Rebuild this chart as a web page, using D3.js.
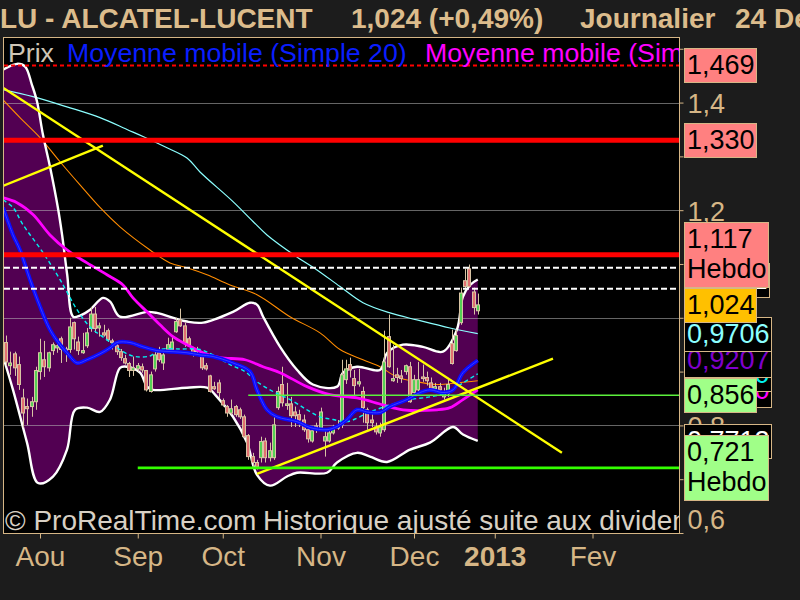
<!DOCTYPE html>
<html>
<head>
<meta charset="utf-8">
<script src="https://cdn.jsdelivr.net/npm/d3@7"></script>
<style>
  html, body { margin: 0; padding: 0; background: #1c1c1c; }
  svg { display: block; }
</style>
</head>
<body>
<svg id="chart" width="800" height="600"></svg>
<script>
// ALU daily candles, index 0 = 20 Jul 2012 ... index 111 = 24 Dec 2012
const candleOpen = [
  0.954,0.911,0.933,0.913,0.851,0.835,0.835,0.844,0.900,0.922,
  0.907,0.939,0.944,0.961,0.942,0.941,0.991,0.955,0.935,0.948,
  0.980,1.007,0.981,0.972,0.976,0.957,0.948,0.937,0.924,0.915,
  0.902,0.905,0.909,0.902,0.863,0.905,0.935,0.916,0.941,0.941,
  0.974,0.996,0.985,0.961,0.941,0.941,0.928,0.911,0.892,0.872,
  0.879,0.846,0.835,0.823,0.835,0.829,0.816,0.781,0.742,0.731,
  0.740,0.771,0.740,0.740,0.833,0.876,0.837,0.840,0.825,0.820,
  0.810,0.792,0.771,0.799,0.795,0.771,0.771,0.786,0.795,0.801,
  0.885,0.913,0.887,0.877,0.863,0.829,0.810,0.797,0.786,0.792,
  0.965,0.883,0.894,0.892,0.900,0.909,0.861,0.866,0.890,0.889,
  0.879,0.868,0.872,0.853,0.859,0.952,0.939,0.991,1.069,1.091,
  1.048,1.013
];
const candleHigh = [
  0.967,0.937,0.937,0.928,0.868,0.850,0.853,0.909,0.961,0.957,
  0.937,0.954,0.955,0.965,0.946,1.000,0.993,0.965,0.972,0.981,
  1.020,1.020,0.991,0.987,0.980,0.961,0.954,0.942,0.931,0.918,
  0.928,0.916,0.915,0.903,0.900,0.941,0.946,0.937,0.963,0.965,
  1.000,1.017,0.991,0.965,0.946,0.946,0.935,0.916,0.894,0.881,
  0.885,0.850,0.838,0.848,0.838,0.833,0.820,0.784,0.749,0.736,
  0.779,0.777,0.768,0.820,0.872,0.909,0.879,0.853,0.835,0.829,
  0.820,0.797,0.796,0.805,0.833,0.792,0.792,0.801,0.810,0.922,
  0.922,0.926,0.903,0.905,0.872,0.833,0.823,0.805,0.805,0.976,
  1.006,0.950,0.907,0.903,0.913,0.918,0.894,0.918,0.913,0.900,
  0.889,0.879,0.879,0.870,0.885,0.978,0.978,1.056,1.091,1.099,
  1.056,1.045
];
const candleLow = [
  0.911,0.894,0.892,0.866,0.796,0.801,0.816,0.829,0.885,0.890,
  0.900,0.931,0.935,0.916,0.918,0.935,0.941,0.931,0.933,0.944,
  0.974,0.972,0.965,0.965,0.955,0.941,0.931,0.920,0.913,0.890,
  0.892,0.900,0.898,0.863,0.861,0.900,0.918,0.903,0.937,0.935,
  0.972,0.983,0.946,0.946,0.928,0.931,0.903,0.902,0.861,0.866,
  0.851,0.835,0.816,0.820,0.816,0.812,0.777,0.736,0.723,0.718,
  0.731,0.731,0.733,0.736,0.829,0.835,0.829,0.797,0.797,0.797,
  0.788,0.768,0.768,0.786,0.792,0.742,0.768,0.783,0.792,0.795,
  0.877,0.889,0.853,0.872,0.805,0.792,0.797,0.783,0.779,0.788,
  0.907,0.881,0.879,0.879,0.894,0.842,0.853,0.863,0.881,0.874,
  0.863,0.861,0.857,0.848,0.853,0.913,0.937,0.987,1.052,1.056,
  1.006,1.006
];
const candleClose = [
  0.918,0.916,0.907,0.876,0.823,0.831,0.844,0.902,0.935,0.909,
  0.935,0.950,0.948,0.941,0.939,0.983,0.961,0.939,0.939,0.972,
  1.007,0.980,0.985,0.968,0.959,0.954,0.937,0.926,0.916,0.902,
  0.907,0.911,0.903,0.866,0.894,0.931,0.922,0.931,0.950,0.955,
  0.993,0.985,0.954,0.950,0.935,0.937,0.907,0.905,0.863,0.868,
  0.861,0.838,0.823,0.831,0.820,0.816,0.779,0.742,0.731,0.723,
  0.770,0.740,0.753,0.801,0.863,0.842,0.840,0.818,0.818,0.810,
  0.792,0.775,0.790,0.794,0.825,0.779,0.786,0.795,0.799,0.894,
  0.905,0.903,0.874,0.881,0.833,0.805,0.805,0.788,0.797,0.918,
  0.909,0.887,0.889,0.887,0.911,0.844,0.885,0.885,0.887,0.883,
  0.868,0.872,0.866,0.861,0.876,0.915,0.967,1.046,1.058,1.058,
  1.019,1.024
];

// Bollinger bands (upper / lower), sampled by candle index
const bbUpperIdx = [-0.7,2.6,4.5,6.1,7.3,8.7,10.4,12.2,13.2,14.4,15.8,17.4,19.8,22.8,24.5,26.8,33.2,35.5,42.6,46.4,53.4,57.4,59.1,60.5,64.5,68.5,72.2,77.9,79.3,82.6,88.0,89.7,93.4,98.1,102.8,106.1,107.5,109.2,111];
const bbUpperVal = [1.461,1.472,1.467,1.433,1.402,1.340,1.279,1.205,1.154,1.080,1.002,1.004,1.015,1.037,1.030,1.002,1.011,1.009,0.993,0.991,1.011,1.028,1.024,1.002,0.946,0.903,0.876,0.872,0.898,0.909,0.903,0.935,0.950,0.946,0.937,0.978,1.039,1.061,1.0711];
const bbLowerIdx = [-0.7,1.65,4.94,7.53,11.06,14.35,16.24,19.06,22.12,24.47,26.82,28.47,31.53,33.18,34.59,42.59,47.29,49.65,53.41,56.71,59.06,62.12,66.12,68.47,75.53,77.88,82.59,85.65,89.65,95.06,99.76,105.18,107.53,111];
const bbLowerVal = [0.928,0.866,0.768,0.693,0.705,0.755,0.829,0.833,0.825,0.848,0.907,0.909,0.898,0.872,0.866,0.870,0.870,0.853,0.816,0.768,0.708,0.688,0.705,0.712,0.712,0.731,0.749,0.742,0.732,0.755,0.768,0.797,0.783,0.7712];

// Moving averages
const sma20Idx = [-0.7,1.65,3.29,5.65,8.0,10.35,12.71,14.35,16.71,19.06,22.12,24.47,26.12,29.18,32.24,35.53,39.29,42.59,45.65,48.71,53.41,57.41,59.06,61.41,63.76,68.47,71.53,75.53,77.88,80.24,82.59,84.94,88.0,90.35,94.35,97.41,99.76,102.82,105.18,107.53,111];
const sma20Val = [1.205,1.154,1.126,1.071,1.021,0.978,0.950,0.935,0.916,0.922,0.933,0.944,0.954,0.954,0.946,0.939,0.937,0.935,0.931,0.928,0.916,0.900,0.866,0.829,0.816,0.807,0.796,0.792,0.798,0.811,0.829,0.825,0.824,0.835,0.848,0.861,0.866,0.861,0.866,0.898,0.9207];
const smaMagentaIdx = [-0.7,2.59,6.35,10.35,14.35,19.06,23.76,27.53,29.88,33.18,36.24,39.29,42.59,46.35,50.35,56.24,60.47,64.47,70.82,76.24,82.59,88.71,93.41,101.41,104.47,107.53,111];
const smaMagentaVal = [1.223,1.214,1.192,1.154,1.126,1.102,1.080,1.061,1.037,1.011,0.987,0.965,0.950,0.935,0.926,0.922,0.909,0.898,0.872,0.857,0.851,0.838,0.829,0.829,0.833,0.848,0.866];
const smaCyanIdx = [-0.7,1.65,4.0,8.71,12.71,16.71,19.76,23.76,27.53,30.35,33.88,36.24,40.94,45.65,48.71,52.71,56.24,59.06,62.82,66.82,70.82,73.88,76.94,80.24,85.65,90.35,95.06,99.76,103.76,107.53,111];
const smaCyanVal = [1.219,1.205,1.173,1.121,1.071,1.015,0.983,0.959,0.937,0.928,0.929,0.941,0.942,0.941,0.931,0.913,0.900,0.881,0.863,0.848,0.829,0.816,0.811,0.807,0.825,0.838,0.848,0.853,0.861,0.879,0.896];
const smaOrangeIdx = [-0.7,3.29,8.0,12.71,17.41,22.12,26.82,33.88,38.59,42.59,47.29,52.71,59.06,66.82,73.88,78.59,84.0,88.0,92.0,96.71,101.41,106.12,111];
const smaOrangeVal = [1.405,1.372,1.335,1.290,1.247,1.205,1.169,1.126,1.102,1.093,1.080,1.061,1.043,1.002,0.972,0.941,0.922,0.909,0.890,0.881,0.876,0.879,0.883];
const smaLongIdx = [-0.7,6.35,14.35,22.12,28.47,32.24,37.88,42.59,45.65,53.41,58.12,61.41,68.47,73.18,78.59,84.0,90.35,96.71,104.47,111];
const smaLongVal = [1.424,1.411,1.392,1.372,1.350,1.337,1.316,1.297,1.271,1.216,1.179,1.154,1.113,1.089,1.058,1.028,1.009,0.996,0.981,0.9706];

// Trend lines (start/end index, start/end value)
const trendDownIdx = [-0.7, 130.8];
const trendDownVal = [1.4275, 0.749];
const trendShortIdx = [-0.7, 22.8];
const trendShortVal = [1.245, 1.320];
const trendUpIdx = [59.06, 128.7];
const trendUpVal = [0.710, 0.924];

// Horizontal levels
const resistDotted = 1.469;
const resistLevels = [1.330, 1.117];
const recentLevels = [1.093, 1.054];
const supportWeekly = 0.721;
const supportWeeklyFrom = 31;
const supportDaily = 0.856;
const supportDailyFrom = 57;
const lastPrice = 1.024;

// Axis ticks
const monthIdx = [8, 31, 51, 74, 96, 115, 138];
const monthLabels = ["Aou", "Sep", "Oct", "Nov", "Dec", "2013", "Fev"];
const priceTicks = [0.6, 0.7, 0.8, 0.9, 1.0, 1.1, 1.2, 1.3, 1.4, 1.5];
const priceLabelTicks = [0.6, 0.8, 1.0, 1.2, 1.4];

// ---------------------------------------------------------------
const W = 800, H = 600;
const plot = { left: 4, top: 38, right: 679, bottom: 533 };
const TAN = "#d6b686";
const FONT = "'Liberation Sans', Arial, sans-serif";

const svg = d3.select("#chart");
svg.append("rect").attr("width", W).attr("height", H).attr("fill", "#1c1c1c");

const xs = d3.scaleLinear().domain([0, 138]).range([6, 6 + 4.25 * 138]);
const ys = d3.scaleLinear().domain([0.6, 1.52]).range([plot.bottom, plot.top]);

const defs = svg.append("defs");
defs.append("clipPath").attr("id", "plotClip")
  .append("rect")
  .attr("x", plot.left).attr("y", plot.top)
  .attr("width", plot.right - plot.left).attr("height", plot.bottom - plot.top);

svg.append("rect")
  .attr("x", plot.left).attr("y", plot.top)
  .attr("width", plot.right - plot.left).attr("height", plot.bottom - plot.top)
  .attr("fill", "#000");

const g = svg.append("g").attr("clip-path", "url(#plotClip)");

const zip = (idx, val) => idx.map((d, k) => [d, val[k]]);
const line = d3.line()
  .x(d => xs(d[0])).y(d => ys(d[1]))
  .curve(d3.curveCatmullRom.alpha(0.5));
const straight = d3.line().x(d => xs(d[0])).y(d => ys(d[1]));

// Bollinger fill
const upperPts = zip(bbUpperIdx, bbUpperVal);
const lowerPts = zip(bbLowerIdx, bbLowerVal);
const upPath = line(upperPts);
const lowRev = line(lowerPts.slice().reverse());
g.append("path")
  .attr("d", upPath + "L" + lowRev.slice(1) + "Z")
  .attr("fill", "#520052");

// Grid
g.selectAll("line.grid").data(priceLabelTicks.filter(v => v > 0.6))
  .join("line").attr("class", "grid")
  .attr("x1", plot.left).attr("x2", plot.right)
  .attr("y1", d => Math.round(ys(d)) + 0.5).attr("y2", d => Math.round(ys(d)) + 0.5)
  .attr("stroke", "#b8b8b8").attr("stroke-opacity", 0.55).attr("stroke-width", 1);

// Long moving averages (thin)
g.append("path").attr("d", line(zip(smaLongIdx, smaLongVal)))
  .attr("fill", "none").attr("stroke", "#8cffff").attr("stroke-width", 1.2);
g.append("path").attr("d", line(zip(smaOrangeIdx, smaOrangeVal)))
  .attr("fill", "none").attr("stroke", "#ff8c00").attr("stroke-width", 1.1);

// Band edges
[upperPts, lowerPts].forEach(pts => {
  g.append("path").attr("d", line(pts))
    .attr("fill", "none").attr("stroke", "#ffffff").attr("stroke-width", 2.4);
});

// Candles
const candles = candleOpen.map((o, i) => ({
  i, o, h: candleHigh[i], l: candleLow[i], c: candleClose[i]
}));
const cg = g.append("g");
cg.selectAll("line.wick").data(candles).join("line").attr("class", "wick")
  .attr("x1", d => Math.round(xs(d.i)) + 0.5).attr("x2", d => Math.round(xs(d.i)) + 0.5)
  .attr("y1", d => ys(d.h)).attr("y2", d => ys(d.l))
  .attr("stroke", "#d8c4a4").attr("stroke-width", 1);
cg.selectAll("rect.body").data(candles).join("rect").attr("class", "body")
  .attr("x", d => Math.round(xs(d.i)) - 1.5)
  .attr("width", 3)
  .attr("y", d => ys(Math.max(d.o, d.c)))
  .attr("height", d => Math.max(1, Math.abs(ys(d.o) - ys(d.c))))
  .attr("fill", d => d.c >= d.o ? "#55d055" : "#e27070")
  .attr("stroke", "#d8c4a4").attr("stroke-width", 1);

// Short moving averages over candles
g.append("path").attr("d", line(zip(smaMagentaIdx, smaMagentaVal)))
  .attr("fill", "none").attr("stroke", "#ff00ff").attr("stroke-width", 2.8);
g.append("path").attr("d", line(zip(smaCyanIdx, smaCyanVal)))
  .attr("fill", "none").attr("stroke", "#00f0f0").attr("stroke-width", 1.4)
  .attr("stroke-dasharray", "4,3");
g.append("path").attr("d", line(zip(sma20Idx, sma20Val)))
  .attr("fill", "none").attr("stroke", "#0a0aff").attr("stroke-width", 4);
g.append("path").attr("d", line(zip(sma20Idx, sma20Val)))
  .attr("fill", "none").attr("stroke", "#3d3dff").attr("stroke-width", 1);

// Trend lines
[[trendDownIdx, trendDownVal], [trendShortIdx, trendShortVal], [trendUpIdx, trendUpVal]]
  .forEach(([ix, vl]) => {
    g.append("path").attr("d", straight(zip(ix, vl)))
      .attr("fill", "none").attr("stroke", "#ffff00").attr("stroke-width", 2.4);
  });

// Horizontal levels
const hline = (v, x0, color, width, dash) => {
  const yy = ys(v);
  const l = g.append("line")
    .attr("x1", x0).attr("x2", plot.right)
    .attr("y1", yy).attr("y2", yy)
    .attr("stroke", color).attr("stroke-width", width);
  if (dash) l.attr("stroke-dasharray", dash);
};
hline(resistDotted, plot.left, "#ff0000", 2, "4,3");
resistLevels.forEach(v => hline(v, plot.left, "#ff0000", 5));
recentLevels.forEach(v => hline(v, plot.left, "#ffffff", 2, "6,3"));
hline(supportDaily, xs(supportDailyFrom), "#5cf03c", 1.4);
hline(supportWeekly, xs(supportWeeklyFrom), "#33ff00", 2.6);

// Legend and watermark
const tg = svg.append("g").attr("clip-path", "url(#plotClip)")
  .style("font-family", FONT).style("font-size", "26.7px");
tg.append("text").attr("x", 8).attr("y", 62).attr("fill", "#cfc6b6").text("Prix");
tg.append("text").attr("x", 67).attr("y", 62).attr("fill", "#0a1eff").text("Moyenne mobile (Simple 20)");
tg.append("text").attr("x", 425).attr("y", 62).attr("fill", "#ff00ff").text("Moyenne mobile (Simple 50)");
const wm = tg.append("text").attr("y", 530).attr("fill", "#d8d0c4").style("font-size", "28px");
wm.append("tspan").attr("x", 5).text("© ProRealTime.com");
wm.append("tspan").attr("x", 263).text("Historique ajusté suite aux dividendes");

// Frame
svg.append("rect")
  .attr("x", plot.left - 0.5).attr("y", plot.top - 0.5)
  .attr("width", plot.right - plot.left + 1).attr("height", plot.bottom - plot.top + 1)
  .attr("fill", "none").attr("stroke", TAN).attr("stroke-width", 1);

const comma = s => s.replace(".", ",");

// Bottom axis
const xAxis = d3.axisBottom(xs).tickValues(monthIdx).tickSize(5).tickPadding(8)
  .tickFormat((d, k) => monthLabels[k]);
const xg = svg.append("g").attr("transform", `translate(0,${plot.bottom + 0.5})`).call(xAxis);
xg.select(".domain").remove();
xg.selectAll(".tick line").attr("stroke", TAN);
xg.selectAll(".tick text")
  .attr("fill", TAN).style("font-family", FONT).style("font-size", "28px")
  .style("font-weight", (d, k) => monthLabels[k] === "2013" ? "bold" : "normal");

// Right axis
const yAxis = d3.axisRight(ys).tickValues(priceTicks).tickSize(4).tickPadding(4)
  .tickFormat(d => priceLabelTicks.some(v => Math.abs(v - d) < 1e-9) ? comma(d3.format(".1f")(d)) : "");
const yg = svg.append("g").attr("transform", `translate(${plot.right + 0.5},0)`).call(yAxis);
yg.select(".domain").remove();
yg.selectAll(".tick line").attr("stroke", TAN);
yg.selectAll(".tick text")
  .attr("fill", TAN).style("font-family", FONT).style("font-size", "27px")
  .attr("dy", d => d <= 0.6 ? "-0.15em" : "0.37em");

// Value labels on the price scale
const labelLayer = svg.append("g").style("font-family", FONT).style("font-size", "27px");
function valueBox(v, lines, fill, color) {
  const h = lines.length === 1 ? 34 : 65;
  const top = Math.round(ys(v) - h / 2);
  const grp = labelLayer.append("g");
  const rect = grp.append("rect").attr("x", 684.5).attr("y", top + 0.5)
    .attr("height", h).attr("fill", fill).attr("stroke", TAN).attr("stroke-width", 1);
  let wMax = 0;
  lines.forEach((t, k) => {
    const tx = grp.append("text").attr("x", 687).attr("y", top + 26 + 30 * k)
      .attr("fill", color).text(t);
    wMax = Math.max(wMax, tx.node().getComputedTextLength());
  });
  rect.attr("width", Math.round(wMax) + 4);
}
const f4 = v => comma(d3.format(".4f")(v));
const f3 = v => comma(d3.format(".3f")(v));

// indicator values (lowest drawn first)
[
  [bbLowerVal[bbLowerVal.length - 1], "#ffffff"],
  [smaMagentaVal[smaMagentaVal.length - 1], "#ff00ff"],
  [smaCyanVal[smaCyanVal.length - 1], "#00f0f0"],
  [sma20Val[sma20Val.length - 1], "#7f00cc"],
  [smaLongVal[smaLongVal.length - 1], "#8cffff"],
  [bbUpperVal[bbUpperVal.length - 1], "#ffffff"]
].sort((a, b) => a[0] - b[0])
 .forEach(([v, col]) => valueBox(v, [f4(v)], "#000", col));

valueBox(resistDotted, [f3(resistDotted)], "#ff8080", "#000");
valueBox(resistLevels[0], [f3(resistLevels[0])], "#ff8080", "#000");
valueBox(resistLevels[1], [f3(resistLevels[1]), "Hebdo"], "#ff8080", "#000");
valueBox(supportDaily, [f3(supportDaily)], "#a0ff88", "#000");
valueBox(supportWeekly, [f3(supportWeekly), "Hebdo"], "#a0ff88", "#000");
valueBox(lastPrice, [f3(lastPrice)], "#ffc000", "#000");

// Title
const title = svg.append("g").style("font-family", FONT).style("font-size", "28px")
  .style("font-weight", "bold").attr("fill", "#dcbc8c");
title.append("text").attr("x", 0).attr("y", 28).text("LU - ALCATEL-LUCENT");
title.append("text").attr("x", 351).attr("y", 28).text("1,024 (+0,49%)");
title.append("text").attr("x", 580).attr("y", 28).text("Journalier");
title.append("text").attr("x", 735).attr("y", 28).text("24 Dec 2012");
</script>
</body>
</html>
